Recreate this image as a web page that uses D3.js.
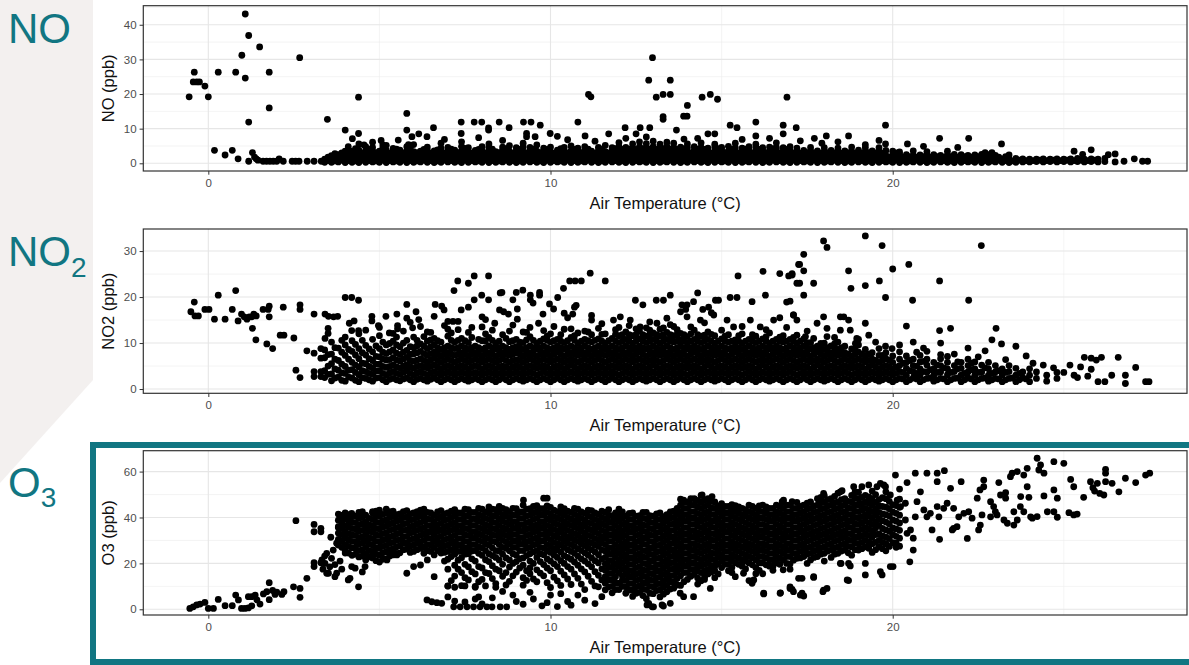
<!DOCTYPE html>
<html><head><meta charset="utf-8">
<script src="https://cdn.jsdelivr.net/npm/d3@7"></script>
<style>
body{margin:0;background:#fff}
svg{display:block;font-family:"Liberation Sans",Arial,sans-serif}
</style>
</head><body>
<svg id="c" width="1189" height="665"></svg>
<script>
// ---------------- DATA ----------------
const xTicks = [0, 10, 20];
const xMinor = [5, 15, 25];
const noTicks = [0, 10, 20, 30, 40];
const no2Ticks = [0, 10, 20, 30];
const o3Ticks = [0, 20, 40, 60];
const panelNames = ["NO", "NO2", "O3"];
const yTitles = ["NO (ppb)", "NO2 (ppb)", "O3 (ppb)"];
const xTitle = "Air Temperature (°C)";

// NO: individual points [temp, ppb]
const noPoints = [[-0.56,19.2],[-0.41,26.3],[-0.44,23.5],[-0.34,23.5],[-0.26,23.5],[-0.1,22.3],[0,19.2],[0.18,3.75],[0.29,26.3],[0.49,2.4],[0.7,3.75],[0.8,26.3],[0.87,1.3],[0.98,31.2],[1.08,43.1],[1.08,24.6],[1.18,36.9],[1.18,11.9],[1.18,0.6],[1.29,3.1],[1.35,1.8],[1.45,0.9],[1.4,1.3],[1.5,33.6],[1.6,0.6],[1.7,0.6],[1.8,0.6],[1.9,0.6],[2.0,0.6],[1.78,26.3],[1.78,16.0],[2.07,1.3],[2.19,0.6],[2.45,0.6],[2.55,0.6],[2.65,0.6],[2.67,30.5],[2.89,0.6],[3.09,0.6],[3.3,0.6],[3.48,12.7],[4.0,9.6],[4.21,7.1],[4.39,19.1],[4.39,8.6],[4.09,4.8],[4.6,4.8],[4.8,6.1],[3.7,2.8],[4.15,3.5],[4.55,5.3],[5.1,5.3],[5.05,6.6],[5.55,6.7],[5.85,5.4],
[5.8,14.4],[5.8,9.6],[5.95,7.7],[6.15,8.5],[6.39,7.7],[6.58,10.3],[7.39,11.9],[7.77,11.9],[7.99,11.9],[7.39,8.6],[8.19,10.2],[8.19,9.6],[8.5,11.9],[8.79,10.3],[9.21,11.9],[9.43,11.9],[9.3,8.6],[9.3,7.7],[9.55,7.7],[9.7,11.0],[9.99,8.6],[10.8,11.9],[10.2,7.8],[11.01,7.9],[11.11,19.9],[11.18,19.2],[11.7,8.5],[12.2,7.2],[12.18,10.3],[12.5,8.5],[12.62,10.3],[12.9,10.3],[12.87,24.0],[12.98,30.5],[13.09,19.1],[13.29,19.9],[13.5,19.9],[13.29,13.5],[13.29,12.7],[13.5,24.0],[13.68,9.6],[13.89,13.6],[13.99,13.6],[14.0,16.7],[14.3,7.2],[14.43,19.1],[14.6,8.5],[14.8,8.5],[14.67,19.9],[14.88,18.5],[15.25,11.0],[15.45,10.3],[16.0,11.9],[16.0,7.9],[16.8,11.0],[16.8,8.5],[16.91,19.1],[17.18,10.3],
[17.71,7.2],[17.93,5.8],[18.06,7.9],[18.71,7.9],[19.2,5.4],[19.79,11.0],[19.79,5.6],[20.43,5.6],[21.37,7.2],[22.22,7.2],[22.7,3.1],[23.18,5.6],[22.9,3.1],[25.3,3.5],[25.8,3.9],[25.55,2.6],[26.3,2.5],[26.5,2.7],[26.76,0.6],[27.06,1.3],[27.3,0.6],[27.45,0.6],
[6.9,6.9],[7.9,7.4],[8.6,6.6],[10.5,6.8],[11.3,6.4],[12.8,7.6],[13.9,7.0],[15.6,6.9],[16.4,7.2],[17.3,6.5],[18.4,6.2],[19.6,6.6],[20.9,4.9],[21.9,4.6]];

// NO: dense band, [temp, [ppb values]]
const noColumns = [[3.4,[0.3,1.2]],[3.6,[0.3,1.3,2.2]],[3.8,[0.4,1.2,2.5]],[4.0,[0.2,1.3,2.4,3.5]],[4.2,[0.3,1.4,2.5,3.3]],[4.4,[0.2,1.3,2.6,3.8,5.6]],[4.6,[0.3,1.2,2.4,3.6]],[4.8,[0.4,1.4,2.5,3.4,4.6]],[5.0,[0.3,1.3,2.3,3.5]],[5.2,[0.2,1.3,2.5,3.7,5.2]],[5.4,[0.4,1.2,2.4,3.3,4.3]],[5.6,[0.3,1.4,2.6,3.8]],[5.8,[0.2,1.3,2.5,3.6,4.8]],[6.0,[0.3,1.2,2.3,3.4,5.4]],[6.2,[0.4,1.4,2.5,3.5]],[6.4,[0.3,1.3,2.4,3.7,4.7]],[6.6,[0.2,1.2,2.6,3.6]],[6.8,[0.3,1.4,2.5,3.4,4.4,5.8]],[7.0,[0.4,1.3,2.3,3.5,4.6]],[7.2,[0.3,1.2,2.4,3.8]],[7.4,[0.2,1.4,2.6,3.6,4.9,6.2]],[7.6,[0.3,1.3,2.5,3.4,4.5]],[7.8,[0.4,1.2,2.3,3.7]],[8.0,[0.3,1.4,2.4,3.5,4.8]],[8.2,[0.2,1.3,2.6,3.6,4.6,5.6]],[8.4,[0.3,1.2,2.5,3.4]],[8.6,[0.4,1.4,2.3,3.8,4.7]],[8.8,[0.3,1.3,2.4,3.5,5.1]],[9.0,[0.2,1.2,2.6,3.6,4.5]],[9.2,[0.3,1.4,2.5,3.4,4.8,5.8]],[9.4,[0.4,1.3,2.3,3.7,4.6]],[9.6,[0.3,1.2,2.4,3.5,5.3]],[9.8,[0.2,1.4,2.6,3.6,4.4]],[10.0,[0.3,1.3,2.5,3.4,4.7]],[10.2,[0.4,1.2,2.3,3.8]],[10.4,[0.3,1.4,2.4,3.5,4.6]],[10.6,[0.2,1.3,2.6,3.6,5.0]],[10.8,[0.3,1.2,2.5,3.4,4.4]],[11.0,[0.4,1.4,2.3,3.7,4.8]],[11.2,[0.3,1.3,2.4,3.5]],[11.4,[0.2,1.2,2.6,3.6,4.6]],[11.6,[0.3,1.4,2.5,3.4,5.2]],[11.8,[0.4,1.3,2.3,3.8,4.5]],[12.0,[0.3,1.2,2.4,3.5,4.9,6.0]],[12.2,[0.2,1.4,2.6,3.6,4.6]],[12.4,[0.3,1.3,2.5,3.4,4.4,5.6]],[12.6,[0.4,1.2,2.3,3.7,4.8,6.2]],[12.8,[0.3,1.4,2.4,3.5,4.6,5.7]],[13.0,[0.2,1.3,2.6,3.6,4.8,6.4]],[13.2,[0.3,1.2,2.5,3.4,4.5,5.5]],[13.4,[0.4,1.4,2.3,3.8,4.9,6.1]],[13.6,[0.3,1.3,2.4,3.5,4.6,5.8]],[13.8,[0.2,1.2,2.6,3.6,4.7]],[14.0,[0.3,1.4,2.5,3.4,4.5,5.6]],[14.2,[0.4,1.3,2.3,3.7,4.8]],[14.4,[0.3,1.2,2.4,3.5,4.6,5.9]],[14.6,[0.2,1.4,2.6,3.6,4.4]],[14.8,[0.3,1.3,2.5,3.4,4.7,5.5]],[15.0,[0.4,1.2,2.3,3.8,4.6]],[15.2,[0.3,1.4,2.4,3.5,4.9]],[15.4,[0.2,1.3,2.6,3.6,4.5,5.8]],[15.6,[0.3,1.2,2.5,3.4,4.4]],[15.8,[0.4,1.4,2.3,3.7,4.8]],[16.0,[0.3,1.3,2.4,3.5,4.6,5.5]],[16.2,[0.2,1.2,2.6,3.6,4.5]],[16.4,[0.3,1.4,2.5,3.4,4.7]],[16.6,[0.4,1.3,2.3,3.8,4.6,5.9]],[16.8,[0.3,1.2,2.4,3.5,4.5]],[17.0,[0.2,1.4,2.6,3.6,4.8]],[17.2,[0.3,1.3,2.5,3.4,4.4]],[17.4,[0.4,1.2,2.3,3.7]],[17.6,[0.3,1.4,2.4,3.5,4.6]],[17.8,[0.2,1.3,2.6,3.6]],[18.0,[0.3,1.2,2.5,3.4,4.5]],[18.2,[0.4,1.4,2.3,3.7]],[18.4,[0.3,1.3,2.4,3.5,4.4]],[18.6,[0.2,1.2,2.6,3.6]],[18.8,[0.3,1.4,2.5,3.4,4.7]],[19.0,[0.4,1.3,2.3,3.8]],[19.2,[0.3,1.2,2.4,3.5,4.6]],[19.4,[0.2,1.4,2.6,3.6]],[19.6,[0.3,1.3,2.5,3.4,4.5]],[19.8,[0.4,1.2,2.3,3.7]],[20.0,[0.3,1.4,2.4,3.5]],[20.2,[0.2,1.3,2.6,3.3]],[20.4,[0.3,1.2,2.5]],[20.6,[0.4,1.4,2.3,3.6]],[20.8,[0.3,1.3,2.4]],[21.0,[0.2,1.2,2.6,3.4]],[21.2,[0.3,1.4,2.5]],[21.4,[0.4,1.3,2.3]],[21.6,[0.3,1.2,2.4,3.5]],[21.8,[0.2,1.4,2.6]],[22.0,[0.3,1.3,2.5]],[22.2,[0.4,1.2,2.3]],[22.4,[0.3,1.4,2.4]],[22.6,[0.2,1.3,2.6]],[22.8,[0.3,1.2,2.5]],[23.0,[0.4,1.4,2.3]],[23.2,[0.3,1.3]],[23.4,[0.2,1.2,2.4]],[23.6,[0.3,1.4]],[23.8,[0.4,1.3]],[24.0,[0.4,1.2]],[24.2,[0.5,1.2]],[24.4,[0.4,1.3]],[24.6,[0.5,1.2]],[24.8,[0.4,1.3]],[25.0,[0.5,1.2]],[25.2,[0.4,1.3]],[25.4,[0.5,1.4]],[25.6,[0.4,1.2]],[25.8,[0.5,1.3]],[26.0,[0.4,1.2]],[26.2,[0.5,1.4]],[26.5,[0.4]]];
const noFill = [[3.5,[0.8,1.8]],[3.7,[0.7,1.9]],[3.9,[0.9,1.8,3.0]],[4.1,[0.8,1.9,2.9]],[4.3,[0.7,1.8,3.1,4.2]],[4.5,[0.9,1.9,3.0]],[4.7,[0.8,1.8,2.9,4.0]],[4.9,[0.7,1.9,3.1]],[5.1,[0.9,1.8,3.0,4.4]],[5.3,[0.8,1.9,2.9]],[5.5,[0.7,1.8,3.1,4.1]],[5.7,[0.9,1.9,3.0]],[5.9,[0.8,1.8,2.9,4.2]],[6.1,[0.7,1.9,3.1]],[6.3,[0.9,1.8,3.0,4.0]],[6.5,[0.8,1.9,2.9]],[6.7,[0.7,1.8,3.1,3.9]],[6.9,[0.9,1.9,3.0]],[7.1,[0.8,1.8,2.9,4.1]],[7.3,[0.7,1.9,3.1]],[7.5,[0.9,1.8,3.0,4.3]],[7.7,[0.8,1.9,2.9]],[7.9,[0.7,1.8,3.1,4.0]],[8.1,[0.9,1.9,3.0]],[8.3,[0.8,1.8,2.9,4.1]],[8.5,[0.7,1.9,3.1]],[8.7,[0.9,1.8,3.0,4.2]],[8.9,[0.8,1.9,2.9]],[9.1,[0.7,1.8,3.1,4.0]],[9.3,[0.9,1.9,3.0]],[9.5,[0.8,1.8,2.9,4.1]],[9.7,[0.7,1.9,3.1]],[9.9,[0.9,1.8,3.0,4.0]],[10.1,[0.8,1.9,2.9]],[10.3,[0.7,1.8,3.1,4.2]],[10.5,[0.9,1.9,3.0]],[10.7,[0.8,1.8,2.9,4.0]],[10.9,[0.7,1.9,3.1]],[11.1,[0.9,1.8,3.0,4.1]],[11.3,[0.8,1.9,2.9]],[11.5,[0.7,1.8,3.1,4.0]],[11.7,[0.9,1.9,3.0]],[11.9,[0.8,1.8,2.9,4.2]],[12.1,[0.7,1.9,3.1,4.0]],[12.3,[0.9,1.8,3.0,4.1]],[12.5,[0.8,1.9,2.9,4.0]],[12.7,[0.7,1.8,3.1,4.2]],[12.9,[0.9,1.9,3.0,4.1]],[13.1,[0.8,1.8,2.9,4.0]],[13.3,[0.7,1.9,3.1,4.2]],[13.5,[0.9,1.8,3.0,4.1]],[13.7,[0.8,1.9,2.9,4.0]],[13.9,[0.7,1.8,3.1,4.2]],[14.1,[0.9,1.9,3.0]],[14.3,[0.8,1.8,2.9,4.1]],[14.5,[0.7,1.9,3.1,4.0]],[14.7,[0.9,1.8,3.0]],[14.9,[0.8,1.9,2.9,4.2]],[15.1,[0.7,1.8,3.1]],[15.3,[0.9,1.9,3.0,4.0]],[15.5,[0.8,1.8,2.9]],[15.7,[0.7,1.9,3.1,4.1]],[15.9,[0.9,1.8,3.0]],[16.1,[0.8,1.9,2.9,4.0]],[16.3,[0.7,1.8,3.1]],[16.5,[0.9,1.9,3.0,4.2]],[16.7,[0.8,1.8,2.9]],[16.9,[0.7,1.9,3.1,4.0]],[17.1,[0.9,1.8,3.0]],[17.3,[0.8,1.9,2.9]],[17.5,[0.7,1.8,3.1]],[17.7,[0.9,1.9,3.0]],[17.9,[0.8,1.8,2.9]],[18.1,[0.7,1.9,3.1]],[18.3,[0.9,1.8,3.0]],[18.5,[0.8,1.9,2.9]],[18.7,[0.7,1.8,3.1]],[18.9,[0.9,1.9,3.0]],[19.1,[0.8,1.8,2.9]],[19.3,[0.7,1.9,3.1]],[19.5,[0.9,1.8,3.0]],[19.7,[0.8,1.9,2.9]],[19.9,[0.7,1.8]],[20.1,[0.9,1.9,3.0]],[20.3,[0.8,1.8]],[20.5,[0.7,1.9]],[20.7,[0.9,1.8]],[20.9,[0.8,1.9]],[21.1,[0.7,1.8]],[21.3,[0.9,1.9]],[21.5,[0.8,1.8]],[21.7,[0.7,1.9]],[21.9,[0.9,1.8]],[22.1,[0.8,1.9]],[22.3,[0.7,1.8]],[22.5,[0.9,1.9]],[22.7,[0.8,1.8]],[22.9,[0.7,1.9]],[23.1,[0.9,1.8]],[23.3,[0.8,1.9]],[23.5,[0.7]],[23.7,[0.9]],[23.9,[0.8]],[24.1,[0.8]],[24.3,[0.9]],[24.5,[0.8]],[24.7,[0.9]],[24.9,[0.8]],[25.1,[0.9]],[25.3,[0.8]],[25.5,[0.9]],[25.7,[0.8]],[25.9,[0.9]]];

// NO2: individual points
const no2Points = [[-0.51,16.8],[-0.41,18.9],[-0.39,15.9],[-0.29,15.9],[-0.1,17.3],[0.02,17.3],[0.18,15.2],[0.29,20.4],[0.49,15.2],[0.7,17.3],[0.8,21.4],[0.87,14.8],[0.97,16.3],[1.05,15.7],[1.13,15.2],[1.2,15.7],[1.27,15.7],[1.33,16.3],[1.4,15.9],[1.29,13.2],[1.39,10.7],[1.6,17.3],[1.75,17.3],[1.78,18.0],[1.78,15.7],[1.71,9.8],[1.88,8.8],[2.1,11.7],[2.21,11.7],[2.19,17.8],[2.5,11.1],[2.56,4.1],[2.68,18.3],[2.68,17.3],[2.68,2.5],[2.88,8.3],[3.09,16.3],[3.09,7.8],[3.09,3.8],[3.09,2.7],[3.29,8.8],[3.29,6.7],[3.29,3.8],[3.29,2.7],[3.41,11.0],[3.41,16.3],[3.51,15.8],[3.5,13.2],[3.5,12.1],[3.78,15.8],[3.66,15.7],
[4.0,19.9],[4.19,19.9],[4.39,19.3],[4.12,14.3],[4.26,14.8],[4.19,12.7],[4.39,12.7],[4.78,15.8],[4.78,14.8],[4.97,13.8],[5.19,15.8],[5.29,12.2],[5.51,16.3],[5.53,13.8],[5.53,13.1],[5.8,18.4],[5.8,15.4],[5.9,14.5],[5.97,13.3],[6.07,16.8],[6.15,15.1],[6.6,15.8],[6.63,18.4],[6.82,18.0],[6.89,17.2],[7.0,14.7],[7.15,14.7],[7.3,14.7],[7.18,21.4],[7.29,23.5],[7.6,23.0],[7.77,24.6],[7.39,17.2],[7.6,17.8],[7.77,19.4],[7.99,20.4],[8.19,24.6],[8.19,19.4],[8.0,15.7],[8.1,15.1],[8.37,14.3],[8.53,20.9],[8.58,21.0],[8.51,17.2],[8.63,16.8],[8.77,16.3],[8.9,19.4],[9.0,21.0],[9.19,21.5],[9.03,17.4],[9.03,15.2],[9.41,20.4],[9.41,19.4],[9.49,18.7],[9.68,21.0],[9.68,20.4],[9.78,16.3],[9.65,14.3],[9.97,18.5],[10.09,17.4],[10.21,19.9],[10.38,21.9],[10.56,23.5],[10.72,23.5],[10.9,23.5],[11.16,25.2],[10.4,16.5],[10.5,15.5],[10.65,16.3],[10.7,17.8],[10.75,18.2],[11.2,16.0],[11.2,15.0],
[11.6,23.5],[12.48,19.3],[12.7,18.3],[13.09,19.3],[13.3,19.3],[13.5,20.4],[14.3,20.9],[13.84,18.3],[13.99,18.3],[14.18,19.0],[13.8,16.8],[13.95,17.3],[14.45,17.3],[14.62,17.8],[14.7,16.6],[14.82,19.3],[14.91,19.3],[15.25,19.9],[15.45,19.9],[15.48,24.6],[15.89,19.0],[16.21,25.6],[16.28,20.4],[16.7,25.1],[16.96,24.6],[17.06,25.1],[17.25,27.1],[16.9,18.9],[17.0,19.1],[16.7,15.5],[17.2,23.0],
[11.84,15.0],[12.04,15.7],[12.33,15.0],[12.62,13.5],[13.11,14.3],[13.4,15.4],[13.99,15.7],[14.38,15.0],[14.77,16.1],[15.16,15.0],[15.35,13.5],[15.84,15.0],[16.13,13.5],[16.52,15.0],[17.1,16.1],
[17.98,32.2],[18.08,30.8],[19.2,33.3],[19.69,31.2],[22.59,31.2],[17.4,29.3],[17.28,27.1],[17.4,25.7],[17.28,23.0],[17.4,20.4],[17.06,24.8],[17.69,23.0],[18.71,25.7],[18.78,21.9],[19.2,22.5],[19.61,23.5],[20.0,26.1],[19.79,19.9],[20.47,27.1],[20.58,19.3],[21.37,23.5],[22.22,19.3],[20.4,13.7],[21.37,12.7],[21.69,13.2],[23.02,13.2],[22.9,10.7],[23.18,9.8],[22.7,8.3],[23.6,9.3],[23.9,7.2],[21.4,10.0],[21.4,7.5],[20.6,10.2],[20.9,8.9],[20.7,8.0],[22.2,8.9],[25.18,5.2],[25.49,4.8],[25.6,6.9],[25.8,6.7],[25.95,6.3],[26.1,6.9],[25.8,4.3],[26.59,6.9],[27.1,4.7],[26.4,3.0],[26.8,3.0],[26.8,1.2],[26.2,1.6],[26.0,1.6],[27.39,1.6],[27.49,1.6],[25.3,3.0],[25.4,2.5],[25.7,2.8],
[17.1,16.1],[17.2,15.0],[17.98,15.7],[18.47,15.7],[18.57,15.7],[18.71,15.0],[19.2,14.3],[19.3,11.7],[18.95,11.0],[17.79,14.3],[18.08,13.2],[18.47,12.8],[18.76,12.8],[17.45,11.4],[17.69,11.0],[18.08,11.4],[18.91,9.9],[19.79,9.3],[19.98,8.8],[24.4,5.2],[24.7,4.6],[25.0,3.6],
[4.6,12.8],[5.0,13.4],[5.7,12.6],[6.2,13.6],[6.5,12.3],[6.9,13.8],[7.3,12.9],[7.7,13.4],[8.3,12.8],[8.9,13.9],[9.2,12.4],[9.8,12.7],[10.1,13.6],[10.6,13.1],[11.0,12.6],[11.5,14.2],[12.3,13.8],[12.9,14.6],[13.5,14.0],[14.1,13.5],[14.5,14.4],[15.0,12.8],[15.6,13.6],[16.3,12.9],[16.9,13.4],[17.5,12.6],[18.3,11.2],[19.0,10.8],[19.5,10.2],[20.2,9.6],[21.0,8.2],[21.8,7.6],[22.5,7.0],[23.3,6.4],[24.1,5.6]];

// NO2: dense cloud
const no2Columns = [[3.4,[2.5,4.0,6.8,8.5]],[3.6,[1.8,3.3,5.5,7.6,10.2]],[3.8,[2.6,4.1,6.2,8.9]],[4.0,[1.7,3.4,4.9,7.3,9.6,11.3]],[4.2,[2.4,4.2,5.8,8.2,10.5]],[4.4,[1.6,3.1,4.8,6.6,8.8,12.0]],[4.6,[2.3,3.8,5.5,7.4,9.5]],[4.8,[1.7,3.2,4.6,6.2,8.1,10.8]],[5.0,[2.5,4.0,5.4,7.0,8.8,11.6]],[5.2,[1.6,3.1,4.7,6.3,7.7,9.6]],[5.4,[2.3,3.8,5.2,6.8,8.5,10.4,12.1]],[5.6,[1.8,3.2,4.6,6.1,7.5,9.2]],[5.8,[2.4,3.9,5.3,6.9,8.4,10.6]],[6.0,[1.6,3.0,4.5,6.0,7.6,9.0,11.3]],[6.2,[2.3,3.7,5.1,6.6,8.2,9.8]],[6.4,[1.7,3.1,4.6,5.9,7.3,8.8,10.4,12.4]],[6.6,[2.4,3.8,5.2,6.7,8.0,9.6,11.0]],[6.8,[1.6,3.0,4.4,5.8,7.2,8.6,10.2]],[7.0,[2.3,3.7,5.1,6.5,7.9,9.3,11.5,13.0]],[7.2,[1.6,3.0,4.4,5.8,7.3,8.8,10.2]],[7.4,[2.3,3.7,5.1,6.5,7.9,9.4,11.0]],[7.6,[1.7,3.0,4.4,5.8,7.2,8.6,10.1,12.3]],[7.8,[2.3,3.6,5.1,6.5,7.9,9.3]],[8.0,[1.6,3.0,4.4,5.9,7.2,8.6,10.5,13.5]],[8.2,[2.3,3.7,5.1,6.5,7.9,9.4,11.2]],[8.4,[1.6,3.0,4.4,5.8,7.2,8.7,10.0]],[8.6,[2.4,3.7,5.0,6.5,7.9,9.3,11.8]],[8.8,[1.6,3.1,4.4,5.8,7.3,8.6,10.3,12.6]],[9.0,[2.3,3.7,5.1,6.4,7.9,9.2,10.8]],[9.2,[1.7,3.0,4.4,5.8,7.2,8.6,10.1]],[9.4,[2.3,3.7,5.1,6.6,7.9,9.4,11.4,13.4]],[9.6,[1.6,3.0,4.5,5.8,7.2,8.7,10.0]],[9.8,[2.3,3.8,5.1,6.5,7.9,9.3,10.9]],[10.0,[1.6,3.0,4.4,5.9,7.2,8.6,10.2,12.0]],[10.2,[2.4,3.7,5.1,6.5,8.0,9.3,10.8]],[10.4,[1.6,3.0,4.4,5.8,7.2,8.7,10.1,13.0]],[10.6,[2.3,3.7,5.2,6.5,7.9,9.3,11.2]],[10.8,[1.7,3.0,4.4,5.8,7.3,8.6,10.0,12.2]],[11.0,[2.3,3.7,5.1,6.5,7.9,9.4,10.8]],[11.2,[1.6,3.1,4.4,5.8,7.2,8.6,10.2,11.8]],[11.4,[2.3,3.7,5.1,6.6,7.9,9.3,10.9,13.2]],[11.6,[1.6,3.0,4.4,5.8,7.3,8.7,10.0,12.0]],[11.8,[2.4,3.7,5.1,6.5,7.9,9.3,11.0]],[12.0,[1.6,3.0,4.5,5.8,7.2,8.6,10.1,11.6,13.4]],[12.2,[2.3,3.8,5.1,6.5,7.9,9.4,10.8,12.4]],[12.4,[1.6,3.0,4.4,5.9,7.2,8.6,10.0,11.6]],[12.6,[2.3,3.7,5.1,6.5,8.0,9.3,10.9,12.6]],[12.8,[1.7,3.0,4.4,5.8,7.2,8.7,10.1,11.5,13.3]],[13.0,[2.3,3.7,5.2,6.5,7.9,9.3,10.8,12.2]],[13.2,[1.6,3.1,4.4,5.8,7.3,8.6,10.0,11.5,13.0]],[13.4,[2.3,3.7,5.1,6.6,7.9,9.4,10.8,12.3]],[13.6,[1.6,3.0,4.4,5.8,7.2,8.6,10.2,11.6,13.6]],[13.8,[2.4,3.7,5.1,6.5,7.9,9.3,10.7,12.1]],[14.0,[1.6,3.0,4.5,5.8,7.2,8.7,10.0,11.4]],[14.2,[2.3,3.8,5.1,6.5,8.0,9.3,10.8,12.8]],[14.4,[1.6,3.0,4.4,5.9,7.2,8.6,10.1,11.5]],[14.6,[2.3,3.7,5.2,6.5,7.9,9.4,10.8,12.4]],[14.8,[1.7,3.0,4.4,5.8,7.3,8.6,10.0,11.6]],[15.0,[2.3,3.7,5.1,6.6,7.9,9.3,10.9]],[15.2,[1.6,3.1,4.4,5.8,7.2,8.7,10.2,11.8]],[15.4,[2.3,3.7,5.1,6.5,8.0,9.3,10.7]],[15.6,[1.6,3.0,4.5,5.8,7.2,8.6,10.0,12.0]],[15.8,[2.4,3.8,5.1,6.5,7.9,9.4,10.8]],[16.0,[1.6,3.0,4.4,5.9,7.3,8.6,10.1,11.5]],[16.2,[2.3,3.7,5.2,6.5,7.9,9.3,10.9]],[16.4,[1.7,3.0,4.4,5.8,7.2,8.7,10.0,12.2]],[16.6,[2.3,3.7,5.1,6.6,8.0,9.3,10.8]],[16.8,[1.6,3.1,4.4,5.8,7.2,8.6,10.2,11.6]],[17.0,[2.3,3.8,5.1,6.5,7.9,9.4,10.8]],[17.2,[1.6,3.0,4.5,5.8,7.3,8.6,10.0,11.7]],[17.4,[2.4,3.7,5.1,6.5,7.9,9.3,10.9]],[17.6,[1.6,3.0,4.4,5.9,7.2,8.7,10.1]],[17.8,[2.3,3.7,5.2,6.5,8.0,9.3]],[18.0,[1.7,3.0,4.4,5.8,7.2,8.6,10.0]],[18.2,[2.3,3.7,5.1,6.6,7.9,9.4]],[18.4,[1.6,3.1,4.4,5.8,7.3,8.6,10.2]],[18.6,[2.3,3.8,5.1,6.5,7.9,9.3]],[18.8,[1.6,3.0,4.5,5.8,7.2,8.7]],[19.0,[2.4,3.7,5.1,6.5,8.0,9.6]],[19.2,[1.6,3.0,4.4,5.9,7.2,8.6]],[19.4,[2.3,3.7,5.2,6.5,7.9]],[19.6,[1.7,3.0,4.4,5.8,7.3,8.8]],[19.8,[2.3,3.7,5.1,6.6,7.9]],[20.0,[1.6,3.1,4.4,5.8,7.2]],[20.2,[2.3,3.8,5.1,6.5,8.1]],[20.4,[1.6,3.0,4.5,5.8,7.2]],[20.6,[2.4,3.7,5.1,6.5]],[20.8,[1.6,3.0,4.4,5.9,7.3]],[21.0,[2.3,3.7,5.2,6.5]],[21.2,[1.7,3.0,4.4,5.8]],[21.4,[2.3,3.7,5.1,6.6]],[21.6,[1.6,3.1,4.4,5.8,7.1]],[21.8,[2.3,3.8,5.1]],[22.0,[1.6,3.0,4.5,5.8]],[22.2,[2.4,3.7,5.1,6.5]],[22.4,[1.6,3.0,4.4,5.9]],[22.6,[2.3,3.7,5.2]],[22.8,[1.7,3.0,4.4,5.8]],[23.0,[2.3,3.7,5.1]],[23.2,[1.6,3.1,4.4]],[23.4,[2.3,3.8,5.1]],[23.6,[1.6,3.0,4.5]],[23.8,[2.4,3.7]],[24.0,[1.6,3.0,4.4]],[24.2,[2.3,3.7]],[24.5,[1.7,3.0]],[24.8,[2.3,3.6]]];
const no2Fill = [[3.5,[3.2,5.0,7.5]],[3.7,[2.4,4.4,6.5,9.0]],[3.9,[1.9,3.5,5.4,8.0,10.6]],[4.1,[2.6,4.1,6.5,8.6]],[4.3,[1.9,3.6,5.2,7.4,9.7]],[4.5,[2.5,4.0,5.6,7.9,10.6]],[4.7,[2.0,3.4,4.9,6.6,8.7]],[4.9,[2.4,3.9,5.4,7.1,9.4]],[5.1,[2.0,3.4,4.9,6.5,8.0,10.2]],[5.3,[2.1,3.5,4.9,6.4,8.1,9.9]],[5.5,[2.0,3.4,4.8,6.3,7.8,9.6,11.3]],[5.7,[2.2,3.6,5.0,6.5,8.0,10.0]],[5.9,[2.0,3.4,4.8,6.2,7.6,9.2]],[6.1,[2.1,3.5,4.9,6.3,7.9,9.4,10.6]],[6.3,[2.0,3.4,4.8,6.2,7.7,9.3,11.4]],[6.5,[2.1,3.5,4.9,6.3,7.7,9.2,10.7]],[6.7,[2.0,3.4,4.8,6.2,7.6,9.0,10.5]],[6.9,[2.0,3.4,4.8,6.2,7.6,9.0]],[7.1,[2.0,3.4,4.8,6.2,7.6,9.0,10.6,12.2]],[7.3,[2.0,3.4,4.8,6.2,7.6,9.0,10.6]],[7.5,[2.0,3.4,4.8,6.2,7.6,9.0,10.5]],[7.7,[2.0,3.4,4.8,6.2,7.6,9.0,11.2]],[7.9,[2.0,3.4,4.8,6.2,7.6,9.0,10.8]],[8.1,[2.0,3.4,4.8,6.2,7.6,9.0,10.5,12.0]],[8.3,[2.0,3.4,4.8,6.2,7.6,9.0,10.6]],[8.5,[2.0,3.4,4.8,6.2,7.6,9.0,10.4]],[8.7,[2.0,3.4,4.8,6.2,7.6,9.0,11.0]],[8.9,[2.0,3.4,4.8,6.2,7.6,9.0,10.5]],[9.1,[2.0,3.4,4.8,6.2,7.6,9.0,10.2]],[9.3,[2.0,3.4,4.8,6.2,7.6,9.0,10.7,12.3]],[9.5,[2.0,3.4,4.8,6.2,7.6,9.0,10.6]],[9.7,[2.0,3.4,4.8,6.2,7.6,9.0,10.4]],[9.9,[2.0,3.4,4.8,6.2,7.6,9.0,10.6,11.5]],[10.1,[2.0,3.4,4.8,6.2,7.6,9.0,10.5]],[10.3,[2.0,3.4,4.8,6.2,7.6,9.0,10.4,11.8]],[10.5,[2.0,3.4,4.8,6.2,7.6,9.0,10.5]],[10.7,[2.0,3.4,4.8,6.2,7.6,9.0,10.6,11.6]],[10.9,[2.0,3.4,4.8,6.2,7.6,9.0,10.4]],[11.1,[2.0,3.4,4.8,6.2,7.6,9.0,10.5,12.4]],[11.3,[2.0,3.4,4.8,6.2,7.6,9.0,10.6]],[11.5,[2.0,3.4,4.8,6.2,7.6,9.0,10.4,11.9]],[11.7,[2.0,3.4,4.8,6.2,7.6,9.0,10.5]],[11.9,[2.0,3.4,4.8,6.2,7.6,9.0,10.4,11.9,12.9]],[12.1,[2.0,3.4,4.8,6.2,7.6,9.0,10.4,11.8]],[12.3,[2.0,3.4,4.8,6.2,7.6,9.0,10.4,11.8]],[12.5,[2.0,3.4,4.8,6.2,7.6,9.0,10.4,11.8,13.1]],[12.7,[2.0,3.4,4.8,6.2,7.6,9.0,10.4,11.8]],[12.9,[2.0,3.4,4.8,6.2,7.6,9.0,10.4,11.8,12.8]],[13.1,[2.0,3.4,4.8,6.2,7.6,9.0,10.4,11.8]],[13.3,[2.0,3.4,4.8,6.2,7.6,9.0,10.4,11.8,13.3]],[13.5,[2.0,3.4,4.8,6.2,7.6,9.0,10.4,11.8]],[13.7,[2.0,3.4,4.8,6.2,7.6,9.0,10.4,11.8,12.9]],[13.9,[2.0,3.4,4.8,6.2,7.6,9.0,10.4,11.8]],[14.1,[2.0,3.4,4.8,6.2,7.6,9.0,10.4,12.0]],[14.3,[2.0,3.4,4.8,6.2,7.6,9.0,10.4,11.8]],[14.5,[2.0,3.4,4.8,6.2,7.6,9.0,10.4,11.7]],[14.7,[2.0,3.4,4.8,6.2,7.6,9.0,10.4,11.9]],[14.9,[2.0,3.4,4.8,6.2,7.6,9.0,10.4]],[15.1,[2.0,3.4,4.8,6.2,7.6,9.0,10.4,11.5]],[15.3,[2.0,3.4,4.8,6.2,7.6,9.0,10.4]],[15.5,[2.0,3.4,4.8,6.2,7.6,9.0,10.4,11.6]],[15.7,[2.0,3.4,4.8,6.2,7.6,9.0,10.4]],[15.9,[2.0,3.4,4.8,6.2,7.6,9.0,10.4,11.8]],[16.1,[2.0,3.4,4.8,6.2,7.6,9.0,10.4]],[16.3,[2.0,3.4,4.8,6.2,7.6,9.0,10.4,11.4]],[16.5,[2.0,3.4,4.8,6.2,7.6,9.0,10.4]],[16.7,[2.0,3.4,4.8,6.2,7.6,9.0,10.4,11.3]],[16.9,[2.0,3.4,4.8,6.2,7.6,9.0,10.4]],[17.1,[2.0,3.4,4.8,6.2,7.6,9.0,10.4,11.2]],[17.3,[2.0,3.4,4.8,6.2,7.6,9.0,10.4]],[17.5,[2.0,3.4,4.8,6.2,7.6,9.0,10.1]],[17.7,[2.0,3.4,4.8,6.2,7.6,9.0]],[17.9,[2.0,3.4,4.8,6.2,7.6,9.0,9.9]],[18.1,[2.0,3.4,4.8,6.2,7.6,9.0]],[18.3,[2.0,3.4,4.8,6.2,7.6,9.0,9.8]],[18.5,[2.0,3.4,4.8,6.2,7.6,9.0]],[18.7,[2.0,3.4,4.8,6.2,7.6]],[18.9,[2.0,3.4,4.8,6.2,7.6,8.8]],[19.1,[2.0,3.4,4.8,6.2,7.6]],[19.3,[2.0,3.4,4.8,6.2,7.6]],[19.5,[2.0,3.4,4.8,6.2]],[19.7,[2.0,3.4,4.8,6.2,7.3]],[19.9,[2.0,3.4,4.8,6.2]],[20.1,[2.0,3.4,4.8]],[20.3,[2.2,3.6,5.6]],[20.5,[2.0,4.0,6.2]],[20.7,[2.2,3.4,5.0]],[20.9,[2.0,3.8,6.0]],[21.1,[2.4,4.2]],[21.3,[2.0,3.6,5.2]],[21.5,[2.2,4.6]],[21.7,[2.0,3.6]],[21.9,[2.4,4.4,5.9]],[22.1,[2.0,3.4]],[22.3,[2.2,4.2,5.6]],[22.5,[2.0,3.6]],[22.7,[2.4,4.6]],[22.9,[2.0,3.4]],[23.1,[2.2,4.0]],[23.3,[2.0,3.6]],[23.5,[2.4]],[23.7,[2.0,3.4]],[23.9,[2.2]]];

// O3: individual points
const o3Points = [[-0.54,0.4],[-0.44,1.1],[-0.34,1.9],[-0.24,2.3],[-0.1,3.0],[0,0.4],[0.15,0.4],[0.29,4.3],[0.49,1.6],[0.7,1.6],[0.8,6.2],[0.88,4.1],[0.97,0.4],[1.07,0.4],[1.17,0.6],[1.27,1.5],[1.17,5.5],[1.27,5.5],[1.37,6.2],[1.42,4.1],[1.51,2.3],[1.61,6.7],[1.71,7.7],[1.78,11.6],[1.78,4.2],[1.88,8.2],[1.95,6.5],[2.0,7.5],[2.15,6.5],[2.21,7.7],[2.49,9.8],[2.68,9.1],[2.68,5.2],[2.56,38.6],[2.88,13.5],[3.09,37.0],[3.09,33.8],[3.29,35.3],[3.29,33.8],[3.09,20.3],[3.09,18.6],[3.29,20.3],[3.58,31.4],[3.8,35.6],[3.46,15.7],[3.75,15.7],[4.09,12.8],[4.39,9.8],[3.32,21.5],[3.41,20],[3.46,24.4],[3.65,25.8],[3.75,28.8],[3.51,15.7],[3.7,14.2],[4.14,13.5],[4.19,18.6],[4.29,17.9],[4.58,18.6],[4.78,22.9],[5.22,21.5],[5.51,23.7],[3.55,18.5],[3.6,22.2],[3.7,19.5],[3.85,21],[3.9,17.5],[4.0,24.5],[4.5,16.3],[3.35,17.5],[3.4,23.2],
[3.95,41.1],[4.19,41.8],[4.49,41.8],[5.2,43.6],[4.8,42.5],[5.4,42.8],
[6.39,4.1],[6.53,3.3],[6.68,2.9],[6.82,2.6],[7.17,1.1],[7.36,1.1],[7.56,1.1],[7.75,1.1],[7.94,1.1],[8.14,1.1],[8.29,1.1],[8.53,1.1],[8.72,1.1],[7.0,10.2],[7.2,9.6],[7.5,10.2],[7.8,9.6],[8.1,10.2],[8.4,9.6],[7.0,5.4],[7.2,3.6],[7.5,3.2],[7.8,4.5],[7.9,5.4],[8.0,2.4],[9.0,3.4],[9.2,2.2],[9.5,4.5],[9.75,1.5],[10.0,6.2],[10.3,6.8],[10.5,3.4],[10.8,6.2],[11.0,4.0],[10.6,1.8],[11.3,2.5],[9.9,2.9],[10.2,1.2],[8.9,6.2],[9.4,7.4],[8.6,7.8],[8.3,5],[11.5,5.5],
[12.82,1.9],[12.97,1.1],[13.3,1.4],[13.5,2.6],[12.87,2.6],[13.01,1.1],[13.26,1.9],[14.18,5.5],[13.79,7.0],[14.67,9.1],[13.89,5.5],[14.3,11],[14.5,13],
[15.89,11.3],[16.23,6.7],[16.72,7.2],[17.0,9.8],[17.3,6.2],[17.35,13.5],[17.69,13.9],[17.98,8.4],[18.08,9.1],[15.64,15.7],[15.94,12.8],[16.23,7.0],[16.71,7.0],[17.0,9.1],[18.67,12.8],[19.2,15],[19.64,16.4],[18.71,20],[18.47,20],[19.93,18.6],[17.69,14.2],[17.25,13.5],[17.35,7],[17.4,5.8],[17.06,8.7],[17.1,7.7],[18.71,12.5],[18.49,20],[18.76,18.9],[19.2,20],[19.69,15],[20.01,18.6],[20.5,20.7],[20.6,25.8],[20.1,28.8],[20.1,27],[17.96,7.7],[16.5,17],[17.0,17.5],[17.5,20],[18.0,21],[16.0,15.5],[15.3,16.0],
[9.21,47.6],[9.9,48.4],[9.8,48.4],[13.89,47.6],[14.43,49.8],[14.72,49.1],[16.81,47.6],[17.06,46.9],[16.77,46.9],[17.98,50.5],[18.47,51.2],[18.86,53.4],[19.3,54.2],[19.64,54.9],[19.79,53.4],[19.1,53.4],[19.54,53.4],[19.74,54.2],[18.52,51.7],
[20.08,58.5],[20.42,55.2],[20.66,59.3],[21.0,59.3],[21.3,59.3],[21.51,60.4],[21.3,55.6],[22.0,55.6],[21.69,52.7],[22.66,56.3],[22.66,53.4],[22.55,52.0],[23.1,55.2],[23.3,50.8],[23.44,57.8],[23.49,59.3],[23.64,60.0],[23.83,58.5],[23.93,61.4],[24.22,65.8],[24.32,62.9],[24.27,60.7],[24.42,59.3],[24.71,64.3],[25.0,63.6],[23.93,53.4],[23.98,48.8],[23.74,49.1],[24.42,49.4],[24.71,52],[24.81,48.4],[25.2,56.6],[25.29,53.4],[25.58,48.8],[25.78,55.6],[25.98,54.9],[26.22,61.0],[26.22,59.3],[26.22,55.6],[26.17,49.8],[26.41,54.9],[26.61,51.2],[26.8,57.1],[27.1,55.2],[27.39,58.5],[27.51,59.3],[25.9,51.5],[26.05,50.5],[25.85,53],[24.08,39.7],[24.22,40.4],[24.52,42.5],[24.71,42.5],[24.81,40.1],[25.15,42.1],[25.29,41.1],[25.39,41.5],
[19.93,49.8],[20.13,47.6],[20.23,44.7],[20.37,46.2],[20.37,38.9],[20.52,34.6],[20.42,33.1],[20.66,40.3],[20.71,46.9],[20.81,51.2],[20.91,43.3],[21.0,40.3],[21.1,41.8],[21.15,34.6],[21.3,44.7],[21.35,40.3],[21.49,44],[21.59,46.2],[21.74,34.6],[21.78,44],[21.78,35.3],[21.88,36],[21.93,40.3],[22.08,41.8],[22.18,30.9],[22.22,42.5],[22.32,39.7],[22.47,48.4],[22.51,34.6],[22.56,36.7],[22.61,41.1],[22.86,46.9],[22.86,40.3],[22.95,44.7],[23.0,42.5],[23.05,41.1],[23.15,49.8],[23.25,38.9],[23.3,48.4],[23.35,37.5],[23.54,42.5],[23.54,36.7],[23.64,38.9],[23.73,44.7],[23.83,42.5],[24.03,40.3],[21.37,30.5],[20.6,31]];

// O3: dense cloud
const o3Columns = [[3.8,[28,30.5,33.2,36,38.8,41.5]],[4.0,[25.5,28.2,31,33.8,36.5,39.3,42]],[4.2,[23.5,26.8,29.6,32.4,35.2,38,40.8]],[4.4,[22.8,25.6,28.4,31.2,34,36.8,39.6,42.2]],[4.6,[21.5,24.3,27,29.8,32.6,35.4,38.2,41]],[4.8,[22.4,25.2,28,30.8,33.6,36.4,39.2,42]],[5.0,[20.6,23.6,26.6,29.4,32.2,35,37.8,40.6,43.2]],[5.2,[22,25,27.8,30.6,33.4,36.2,39,41.8]],[5.4,[23.7,26.4,29.2,32,34.8,37.6,40.4]],[5.6,[24.6,27.6,30.4,33.2,36,38.8,41.6]],[5.8,[15.7,26.2,29,31.8,34.6,37.4,40.2,43]],[6.0,[18.6,25.2,28,30.8,33.6,36.4,39.2,42]],[6.2,[19.3,26.6,29.4,32.2,35,37.8,40.6,43.2]],[6.4,[21.5,25.6,28.2,31,33.8,36.6,39.4,42.2]],[6.6,[14.2,23.7,27,29.8,32.6,35.4,38.2,41]],[6.8,[24.5,26.2,29,31.8,34.6,37.4,40.2,43]],[7.0,[10.1,17.5,21.8,25.2,28,30.8,33.6,36.4,39.2,42]],[7.2,[14.5,19.2,24,26.6,29.4,32.2,35,37.8,40.6,43.4]],[7.4,[10.3,16,22.5,25.3,28,30.8,33.6,36.4,39.2,42]],[7.6,[12.8,18.5,24.2,26.6,29.4,32.2,35,37.8,40.6,43.4]],[7.8,[10,15.4,21,25.6,28.2,31,33.8,36.6,39.4,42.2]],[8.0,[13,18,23.5,26.8,29.6,32.4,35.2,38,40.8,43.6]],[8.2,[15.6,20.8,24.2,28,30.8,33.6,36.4,39.2,42,44.6]],[8.4,[11.2,17.5,22.6,25.6,29.4,32.2,35,37.8,40.6,43.4]],[8.6,[14.4,19.6,24,27,30,32.8,35.6,38.4,41.2,44]],[8.8,[12.2,18.4,21.5,25.5,28.6,31.4,34.2,37,39.8,42.6]],[9.0,[16.2,20.8,23.6,27,29.8,32.6,35.4,38.2,41,43.8]],[9.2,[10.5,13.8,19.2,22.4,25.6,28.4,31.2,34,36.8,39.6,42.4,45.4]],[9.4,[15.5,18,21,24.2,27,29.8,32.6,35.4,38.2,41,43.8]],[9.6,[12,17.2,22.6,25.6,28.4,31.2,34,36.8,39.6,42.4,45.2]],[9.8,[14.6,19.5,23.8,26.8,29.8,32.6,35.4,38.2,41,43.8]],[10.0,[9.5,16.8,21,24.8,27.6,30.4,33.2,36,38.8,41.6,44.4]],[10.2,[12.4,18.6,22.6,25.8,28.6,31.4,34.2,37,39.8,42.6]],[10.4,[15,20,23.4,27,29.8,32.6,35.4,38.2,41,43.8]],[10.6,[10.8,17.5,21.8,25.2,28.2,31,33.8,36.6,39.4,42.2]],[10.8,[13.5,19.2,23.2,26.4,29.6,32.4,35.2,38,40.8,43.6]],[11.0,[8.6,16.3,21,24.6,27.8,30.6,33.4,36.2,39,41.8]],[11.2,[12.2,18.5,22.4,26,29,31.8,34.6,37.4,40.2,43]],[11.4,[9.8,14.8,20.2,23.8,27.4,30.2,33,35.8,38.6,41.4]],[11.6,[8.5,11.4,14.2,17,19.8,22.6,25.4,28.2,31,33.8,36.6,39.4,42.2]],[11.8,[7.2,10,12.8,15.6,18.4,21.2,24,26.8,29.6,32.4,35.2,38,40.8]],[12.0,[8.6,11.4,16,18.8,21.6,24.4,27.2,30,32.8,35.6,38.4,41.2,43.6]],[12.2,[7,9.8,12.6,15.4,18.2,21,23.8,26.6,29.4,32.2,35,37.8,40.6]],[12.4,[5.6,8.4,11.2,14,16.8,19.6,22.4,25.2,28,30.8,33.6,36.4,39.2,42]],[12.6,[7.4,10.2,13,15.8,18.6,21.4,24.2,27,29.8,32.6,35.4,38.2,40.8]],[12.8,[4.6,8.6,11.4,14.2,17,19.8,22.6,25.4,28.2,31,33.8,36.6,39.4,42.2]],[13.0,[6.8,9.8,12.6,15.4,18.2,21,23.8,26.6,29.4,32.2,35,37.8,40.6]],[13.2,[5.4,8.4,11.2,14,16.8,19.6,22.4,25.2,28,30.8,33.6,36.4,39.2,42]],[13.4,[7.6,10.4,13.2,16,18.8,21.6,24.4,27.2,30,32.8,35.6,38.4,41.2]],[13.6,[9.2,12,14.8,17.6,20.4,23.2,26,28.8,31.6,34.4,37.2,40,42.8]],[13.8,[10.4,14.6,17.4,20.2,23,25.8,28.6,31.4,34.2,37,39.8,42.6,45.4,48]],[14.0,[13,16,18.8,21.6,24.4,27.2,30,32.8,35.6,38.4,41.2,44,46.8]],[14.2,[15.2,17.4,20.2,23,25.8,28.6,31.4,34.2,37,39.8,42.6,45.4,48.2]],[14.4,[12.4,16,18.8,21.6,24.4,27.2,30,32.8,35.6,38.4,41.2,44,46.8,49.6]],[14.6,[15.4,17.4,20.2,23,25.8,28.6,31.4,34.2,37,39.8,42.6,45.4,48.2]],[14.8,[13.8,16.8,18.8,21.6,24.4,27.2,30,32.8,35.6,38.4,41.2,44,46.8]],[15.0,[18.2,21,23.8,26.6,29.4,32.2,35,37.8,40.6,43.4,46]],[15.2,[16.8,19.6,22.4,25.2,28,30.8,33.6,36.4,39.2,42,44.8]],[15.4,[14.2,20.2,23,25.8,28.6,31.4,34.2,37,39.8,42.6,45.2]],[15.6,[18.8,21.6,24.4,27.2,30,32.8,35.6,38.4,41.2,44]],[15.8,[12.5,20.2,23,25.8,28.6,31.4,34.2,37,39.8,42.6,45.4]],[16.0,[18.2,21.6,24.4,27.2,30,32.8,35.6,38.4,41.2,44]],[16.2,[15.5,20.2,23,25.8,28.6,31.4,34.2,37,39.8,42.6,45.4]],[16.4,[18.8,21.6,24.4,27.2,30,32.8,35.6,38.4,41.2,44]],[16.6,[20.2,23,25.8,28.6,31.4,34.2,37,39.8,42.6,45.4]],[16.8,[17.2,21.6,24.4,27.2,30,32.8,35.6,38.4,41.2,44,46.8]],[17.0,[19.8,23,25.8,28.6,31.4,34.2,37,39.8,42.6,45.4]],[17.2,[22.2,24.4,27.2,30,32.8,35.6,38.4,41.2,44,46.6]],[17.4,[23,25.8,28.6,31.4,34.2,37,39.8,42.6,45.4]],[17.6,[21.5,24.4,27.2,30,32.8,35.6,38.4,41.2,44,46.8]],[17.8,[23,25.8,28.6,31.4,34.2,37,39.8,42.6,45.4,48.2]],[18.0,[24.4,27.2,30,32.8,35.6,38.4,41.2,44,46.8,49.6]],[18.2,[22.6,25.8,28.6,31.4,34.2,37,39.8,42.6,45.4,48.2]],[18.4,[24.4,27.2,30,32.8,35.6,38.4,41.2,44,46.8,50.6]],[18.6,[25.8,28.6,31.4,34.2,37,39.8,42.6,45.4,48.2]],[18.8,[23.6,27.2,30,32.8,35.6,38.4,41.2,44,46.8,49.6]],[19.0,[25.8,28.6,31.4,34.2,37,39.8,42.6,45.4,48.2,51]],[19.2,[27.2,30,32.8,35.6,38.4,41.2,44,46.8,49.6]],[19.4,[24.8,28.6,31.4,34.2,37,39.8,42.6,45.4,48.2,51.5]],[19.6,[27.2,30,32.8,36.6,39.4,42.2,45,47.8]],[19.8,[25.5,28.6,31.4,34.6,38,41.2,44.5,48.2,51.2]],[20.0,[29,32.6,35.5,39,42.4,45.6]],[20.2,[27.5,31,34.4,37.6,41,44.4,48,52.4]]];
const o3Fill = [[3.9,[27,29.8,32.6,35.4,38.2,40.8]],[4.1,[24.5,27.4,30.2,33,35.8,38.6,41.2]],[4.3,[24,26.6,29.4,32.2,35,37.8,40.6]],[4.5,[23.2,26,28.8,31.6,34.4,37.2,40,42.6]],[4.7,[22.8,25.6,28.4,31.2,34,36.8,39.6]],[4.9,[21.2,24,26.8,29.6,32.4,35.2,38,40.8,42.8]],[5.1,[21.8,24.6,27.4,30.2,33,35.8,38.6,41.4]],[5.3,[23.2,26,28.8,31.6,34.4,37.2,40,42.6]],[5.5,[24.4,27.2,30,32.8,35.6,38.4,41.2]],[5.7,[26,28.8,31.6,34.4,37.2,40,42.6]],[5.9,[24.8,27.6,30.4,33.2,36,38.8,41.6]],[6.1,[26,28.8,31.6,34.4,37.2,40,42.6]],[6.3,[24.4,27.2,30,32.8,35.6,38.4,41.2,43.6]],[6.5,[25.2,28,30.8,33.6,36.4,39.2,42]],[6.7,[25.6,28.4,31.2,34,36.8,39.6,42.4]],[6.9,[21,24.8,27.6,30.4,33.2,36,38.8,41.6]],[7.1,[12.5,23,26,28.8,31.6,34.4,37.2,40,42.8]],[7.3,[17.5,21.4,25.2,28,30.8,33.6,36.4,39.2,42]],[7.5,[13.8,19.6,24,26.8,29.6,32.4,35.2,38,40.8,43.6]],[7.7,[16.4,22,25.4,28.2,31,33.8,36.6,39.4,42.2]],[7.9,[12,18.6,24.4,27.2,30,32.8,35.6,38.4,41.2,44]],[8.1,[16,21.6,25.6,28.4,31.2,34,36.8,39.6,42.4]],[8.3,[13.4,19,23.4,26.8,29.6,32.4,35.2,38,40.8,43.6]],[8.5,[16.8,21.5,25.4,28.2,31,33.8,36.6,39.4,42.2,44.8]],[8.7,[10.6,16,22.4,26.6,29.4,32.2,35,37.8,40.6,43.4]],[8.9,[14.6,20,24.2,27,29.8,32.6,35.4,38.2,41,44]],[9.1,[18,22,25.6,28.4,31.2,34,36.8,39.6,42.4]],[9.3,[12.6,16.8,23.4,26.6,29.4,32.2,35,37.8,40.6,43.6]],[9.5,[13.2,20,25,28,30.8,33.6,36.4,39.2,42,44.8]],[9.7,[15.8,20.8,24.2,27,29.8,32.6,35.4,38.2,41,43.8]],[9.9,[11.6,18,22,25.4,28.2,31,33.8,36.6,39.4,42.2,45]],[10.1,[14,19.8,23.6,26.4,29.2,32,34.8,37.6,40.4,43.2]],[10.3,[10.4,16.6,21.2,25,28,30.8,33.6,36.4,39.2,42,44.6]],[10.5,[13.2,18.6,22.6,26,28.8,31.6,34.4,37.2,40,42.8]],[10.7,[15.4,20.6,24.4,27.4,30.2,33,35.8,38.6,41.4,44]],[10.9,[11,17.6,22,25.6,28.4,31.2,34,36.8,39.6,42.4]],[11.1,[14.4,19.8,23.6,26.6,29.4,32.2,35,37.8,40.6,43.2]],[11.3,[10.2,16.4,21.2,25,28,30.8,33.6,36.4,39.2,42]],[11.5,[12.8,17.6,22,25.8,28.8,31.6,34.4,37.2,40,42.8]],[11.7,[9.8,12.8,15.6,18.4,21.2,24,26.8,29.6,32.4,35.2,38,40.8,43.4]],[11.9,[8.6,11.4,14.2,17,19.8,22.6,25.4,28.2,31,33.8,36.6,39.4,42]],[12.1,[10,12.8,14.6,17.4,20.2,23,25.8,28.6,31.4,34.2,37,39.8,42.4]],[12.3,[8.4,11.2,14,16.8,19.6,22.4,25.2,28,30.8,33.6,36.4,39.2,41.8]],[12.5,[7,9.8,12.6,15.4,18.2,21,23.8,26.6,29.4,32.2,35,37.8,40.6]],[12.7,[6,8.8,11.6,14.4,17.2,20,22.8,25.6,28.4,31.2,34,36.8,39.6,42.2]],[12.9,[7,10,12.8,15.6,18.4,21.2,24,26.8,29.6,32.4,35.2,38,40.8]],[13.1,[8.2,11,13.8,16.6,19.4,22.2,25,27.8,30.6,33.4,36.2,39,41.6]],[13.3,[6.6,9.6,12.4,15.2,18,20.8,23.6,26.4,29.2,32,34.8,37.6,40.4]],[13.5,[8.8,11.8,14.6,17.4,20.2,23,25.8,28.6,31.4,34.2,37,39.8,42.4]],[13.7,[10.6,13.4,16.2,19,21.8,24.6,27.4,30.2,33,35.8,38.6,41.4,44]],[13.9,[12,16,18.8,21.6,24.4,27.2,30,32.8,35.6,38.4,41.2,44,46.8]],[14.1,[14.4,17.4,20.2,23,25.8,28.6,31.4,34.2,37,39.8,42.6,45.4,48.2]],[14.3,[13.6,16.6,19.4,22.2,25,27.8,30.6,33.4,36.2,39,41.8,44.6,47.4]],[14.5,[14,16.8,19.6,22.4,25.2,28,30.8,33.6,36.4,39.2,42,44.8,47.6]],[14.7,[16.2,19,21.8,24.6,27.4,30.2,33,35.8,38.6,41.4,44.2,47]],[14.9,[15.4,19.8,22.6,25.4,28.2,31,33.8,36.6,39.4,42.2,45]],[15.1,[19.6,22.4,25.2,28,30.8,33.6,36.4,39.2,42,44.8]],[15.3,[18.2,21,23.8,26.6,29.4,32.2,35,37.8,40.6,43.4,45.6]],[15.5,[19.6,22.4,25.2,28,30.8,33.6,36.4,39.2,42,44.6]],[15.7,[17.6,21,23.8,26.6,29.4,32.2,35,37.8,40.6,43.4]],[15.9,[19.4,22.4,25.2,28,30.8,33.6,36.4,39.2,42,44.8]],[16.1,[17,20.2,23,25.8,28.6,31.4,34.2,37,39.8,42.6,45]],[16.3,[19.4,22.4,25.2,28,30.8,33.6,36.4,39.2,42,44.6]],[16.5,[18.8,21.6,24.4,27.2,30,32.8,35.6,38.4,41.2,44]],[16.7,[19.6,22.4,25.2,28,30.8,33.6,36.4,39.2,42,44.8]],[16.9,[20,23,25.8,28.6,31.4,34.2,37,39.8,42.6,45.4]],[17.1,[21.4,24.4,27.2,30,32.8,35.6,38.4,41.2,44]],[17.3,[22.4,25.2,28,30.8,33.6,36.4,39.2,42,44.8]],[17.5,[24,26.8,29.6,32.4,35.2,38,40.8,43.6,46.2]],[17.7,[22.6,25.4,28.2,31,33.8,36.6,39.4,42.2,45]],[17.9,[24,26.8,29.6,32.4,35.2,38,40.8,43.6,46.4,48.8]],[18.1,[25.4,28.2,31,33.8,36.6,39.4,42.2,45,47.8]],[18.3,[24,26.8,29.6,32.4,35.2,38,40.8,43.6,46.4,49.2]],[18.5,[25.4,28.2,31,33.8,36.6,39.4,42.2,45,47.8]],[18.7,[24.6,27.4,30.2,33,35.8,38.6,41.4,44.2,47]],[18.9,[26,28.8,31.6,34.4,37.2,40,42.8,45.6,48.4,51.2]],[19.1,[26.4,29.2,32,34.8,37.6,40.4,43.2,46,48.8]],[19.3,[26.6,29.4,32.2,35,37.8,40.6,43.4,46.2,49]],[19.5,[26,29.2,32.6,35.4,38.2,41,43.8,46.6,50]],[19.7,[26.4,29.2,32,35.2,38.6,41.6,44.8,48.6]],[19.9,[27.4,30.8,34,37.2,40.6,43.8,47]],[20.1,[28.2,31.8,35,38.4,41.8,45.2]]];

// ---------------- LAYOUT ----------------
const teal = "#117682";
const svg = d3.select("#c");

svg.append("polygon")
  .attr("points", "0,0 93,0 93,380 0,483")
  .attr("fill", "#f3f0ef");

svg.append("rect")
  .attr("x", 93).attr("y", 445).attr("width", 1110).attr("height", 217)
  .attr("fill", "none").attr("stroke", teal).attr("stroke-width", 6);

const x = d3.scaleLinear().domain([-1.9, 28.6]).range([143.3, 1187]);

const panels = [
  {name: panelNames[0], top: 5.7, bottom: 171, domain: [-2.22, 45.5], ticks: noTicks, minor: [5,15,25,35,45],
   pts: noPoints, cols: [noColumns, noFill], yTitle: yTitles[0], lblY: 42.5, sub: null},
  {name: panelNames[1], top: 229, bottom: 393.3, domain: [-0.93, 34.8], ticks: no2Ticks, minor: [5,15,25],
   pts: no2Points, cols: [no2Columns, no2Fill], yTitle: yTitles[1], lblY: 266, sub: "2"},
  {name: panelNames[2], top: 450.7, bottom: 615, domain: [-2.48, 69.1], ticks: o3Ticks, minor: [10,30,50],
   pts: o3Points, cols: [o3Columns, o3Fill], yTitle: yTitles[2], lblY: 496.5, sub: "3"}
];

const x0 = x.range()[0], x1 = x.range()[1];

panels.forEach((p, i) => {
  const y = d3.scaleLinear().domain(p.domain).range([p.bottom, p.top]);
  const g = svg.append("g");
  const cid = "clip" + i;
  svg.append("clipPath").attr("id", cid).append("rect")
    .attr("x", x0).attr("y", p.top).attr("width", x1 - x0).attr("height", p.bottom - p.top);

  g.append("rect").attr("x", x0).attr("y", p.top).attr("width", x1 - x0).attr("height", p.bottom - p.top)
    .attr("fill", "#fff");

  g.selectAll(".mx").data(xMinor).join("line")
    .attr("x1", d => x(d)).attr("x2", d => x(d)).attr("y1", p.top).attr("y2", p.bottom)
    .attr("stroke", "#ededed").attr("stroke-width", 0.6);
  g.selectAll(".my").data(p.minor).join("line")
    .attr("x1", x0).attr("x2", x1).attr("y1", d => y(d)).attr("y2", d => y(d))
    .attr("stroke", "#ededed").attr("stroke-width", 0.6);
  g.selectAll(".gx").data(xTicks).join("line")
    .attr("x1", d => x(d)).attr("x2", d => x(d)).attr("y1", p.top).attr("y2", p.bottom)
    .attr("stroke", "#e6e6e6").attr("stroke-width", 1.1);
  g.selectAll(".gy").data(p.ticks).join("line")
    .attr("x1", x0).attr("x2", x1).attr("y1", d => y(d)).attr("y2", d => y(d))
    .attr("stroke", "#e6e6e6").attr("stroke-width", 1.1);

  const flat = p.pts.slice();
  p.cols.forEach(set => set.forEach(c => c[1].forEach(v => flat.push([c[0], v]))));
  g.append("g").attr("clip-path", `url(#${cid})`)
    .selectAll("circle").data(flat).join("circle")
    .attr("cx", d => x(d[0])).attr("cy", d => y(d[1])).attr("r", 3.4)
    .attr("fill", "#000");

  g.append("rect").attr("x", x0).attr("y", p.top).attr("width", x1 - x0).attr("height", p.bottom - p.top)
    .attr("fill", "none").attr("stroke", "#333").attr("stroke-width", 1.2);

  const ax = d3.axisBottom(x).tickValues(xTicks).tickSize(3.7).tickPadding(4).tickFormat(d3.format("d"));
  const axg = g.append("g").attr("transform", `translate(0,${p.bottom})`).call(ax);
  const ay = d3.axisLeft(y).tickValues(p.ticks).tickSize(3.7).tickPadding(3).tickFormat(d3.format("d"));
  const ayg = g.append("g").attr("transform", `translate(${x0},0)`).call(ay);
  [axg, ayg].forEach(a => {
    a.select(".domain").remove();
    a.selectAll(".tick line").attr("stroke", "#333").attr("stroke-width", 1);
    a.selectAll(".tick text").attr("fill", "#4d4d4d").attr("font-size", 11.5)
      .attr("font-family", '"Liberation Sans",Arial,sans-serif');
  });

  g.append("text").attr("x", (x0 + x1) / 2).attr("y", p.bottom + 38)
    .attr("text-anchor", "middle").attr("font-size", 16.5).attr("fill", "#111").text(xTitle);
  g.append("text").attr("transform", `translate(113.5,${(p.top + p.bottom) / 2}) rotate(-90)`)
    .attr("text-anchor", "middle").attr("font-size", 16.5).attr("fill", "#111").text(p.yTitle);

  const base = p.sub ? p.name.slice(0, -1) : p.name;
  const t = svg.append("text").attr("x", 8).attr("y", p.lblY).attr("fill", teal)
    .attr("font-size", 42);
  t.append("tspan").text(base);
  if (p.sub) t.append("tspan").attr("dy", 10.5).attr("font-size", 28).text(p.sub);
});
</script>
</body></html>
